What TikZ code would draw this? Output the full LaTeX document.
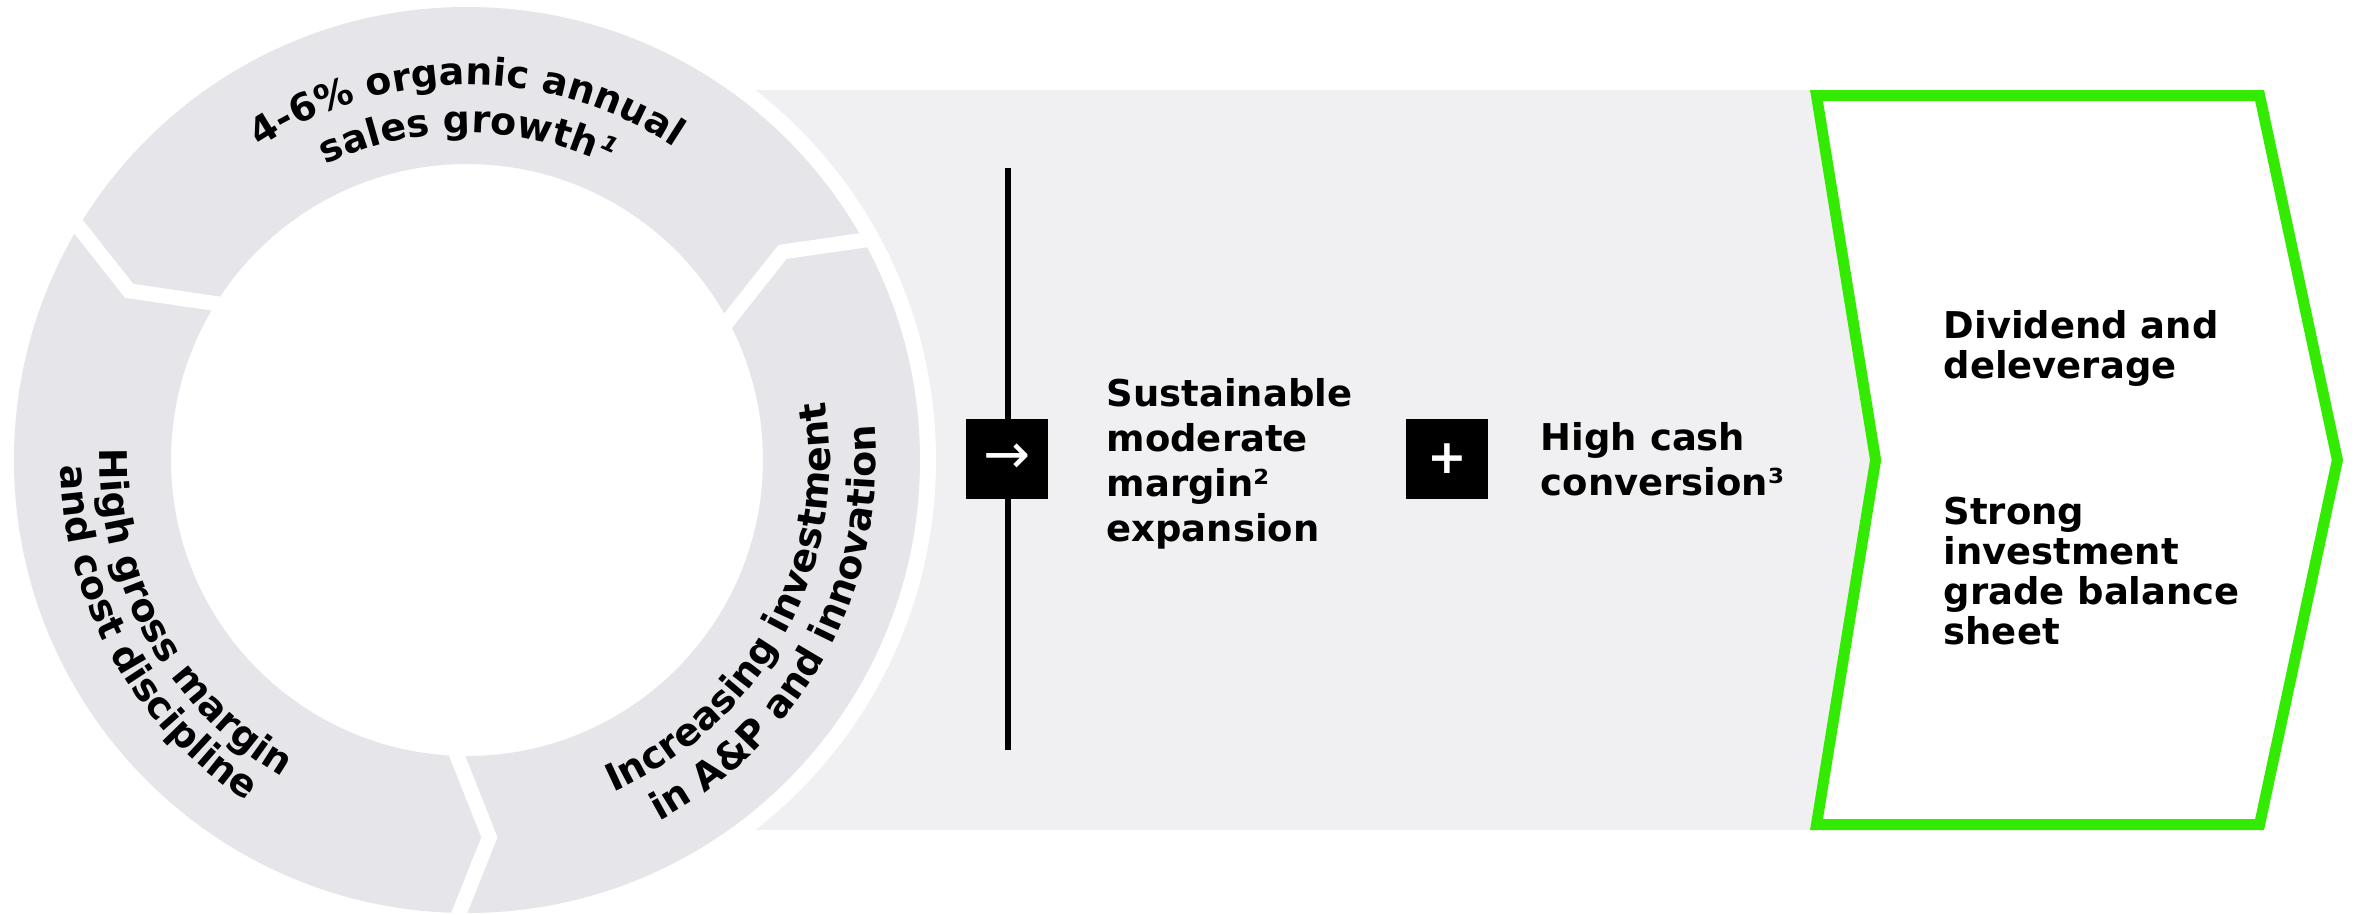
\documentclass[tikz,border=0pt]{standalone}
\usepackage{fontspec}
\setmainfont{DejaVu Sans}
\usetikzlibrary{positioning, decorations.text}

\definecolor{ringgrey}{RGB}{229,229,234}
\definecolor{bandgrey}{RGB}{240,240,242}
\definecolor{chevgreen}{RGB}{50,235,0}

\newcommand{\ringfont}{\bfseries\fontsize{10.8}{12.8}\selectfont}

\begin{document}
\begin{tikzpicture}[x=0.01cm, y=0.01cm,
    gapline/.style={white, line width=0.15cm},
    ringtext/.style={decorate, decoration={text along path, text align=center}},
    bodytext/.style={font=\bfseries\fontsize{10.5}{12.8}\selectfont, align=left, anchor=west, inner sep=0pt},
    chevtext/.style={font=\bfseries\fontsize{10.5}{11.4}\selectfont, align=left, anchor=west, inner sep=0pt},
    blackbox/.style={fill=black, text=white, minimum width=0.81cm, minimum height=0.8cm, inner sep=0pt}
]
\useasboundingbox (-467,-454) rectangle (1889,460);
\fill[white] (-467,-454) rectangle (1889,460);

% band behind the cycle
\fill[bandgrey] (0,370) rectangle (1405,-370);

% cycle ring with chevron gaps
\fill[white] (0,0) circle (469);
\fill[ringgrey, even odd rule] (0,0) circle (453) (0,0) circle (296);
\foreach \a in {28,148,268}
    \draw[gapline] (\a+0.6:462) -- (\a+5.4:378) -- (\a-0.6:288);

% ring labels
\path[ringtext, decoration={text={|\ringfont|4-6{\%} organic annual}}] (150:375) arc[start angle=150, end angle=30, radius=375];
\path[ringtext, decoration={text={|\ringfont|sales growth{\itshape ¹}}}] (150:327) arc[start angle=150, end angle=30, radius=327];
\path[ringtext, decoration={text={|\ringfont|Increasing investment}}] (-98.5:363) arc[start angle=-98.5, end angle=41.5, radius=363];
\path[ringtext, decoration={text={|\ringfont|in A{\&}P and innovation}}] (-98.5:409) arc[start angle=-98.5, end angle=41.5, radius=409];
\path[ringtext, decoration={text={|\ringfont|High gross margin}}] (140:367) arc[start angle=140, end angle=278, radius=367];
\path[ringtext, decoration={text={|\ringfont|and cost discipline}}] (140:406) arc[start angle=140, end angle=278, radius=406];

% middle part
\coordinate (linetop) at (541,292);
\coordinate (linebot) at (541,-290);
\draw[line width=0.055cm] (linetop) -- (linebot);
\node[blackbox, font=\fontsize{16}{16}\selectfont] (arrowbox) at (540,1) {→};
\node[bodytext] (margintext) at (639,-4) {Sustainable\\moderate\\margin²\\expansion};
\node[blackbox, font=\bfseries\fontsize{13.5}{13.5}\selectfont] (plusbox) at (980,1) {+};
\node[bodytext, right=0.52cm of plusbox] (cashtext) {High cash\\conversion³};

% green chevron
\draw[chevgreen, fill=white, line width=0.11cm] (1349.5,364.5) -- (1792.6,364.5) -- (1870.4,0)
    -- (1792.6,-364.5) -- (1349.5,-364.5) -- (1408.6,0) -- cycle;
\node[chevtext] (dividendtext) at (1476,112) {Dividend and\\deleverage};
\node[chevtext] (balancetext) at (1476,-111) {Strong\\investment\\grade balance\\sheet};
\end{tikzpicture}
\end{document}
